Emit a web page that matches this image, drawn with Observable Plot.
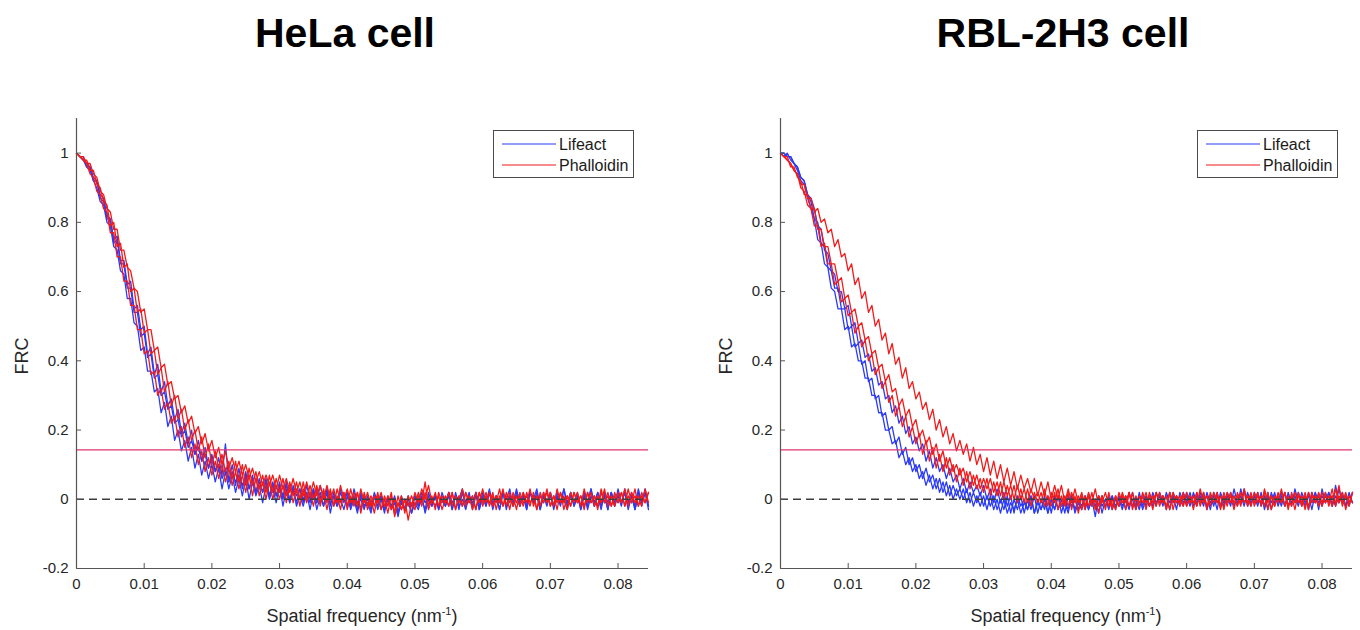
<!DOCTYPE html>
<html>
<head>
<meta charset="utf-8">
<script src="https://cdn.jsdelivr.net/npm/d3@7"></script>
<script src="https://cdn.jsdelivr.net/npm/@observablehq/plot@0.6"></script>
<style>
  html, body { margin: 0; padding: 0; background: #fff; }
  body { font-family: "Liberation Sans", Arial, Helvetica, sans-serif; color: #262626; }
  #root { position: relative; width: 1360px; height: 630px; overflow: hidden; }
  .title { position: absolute; top: 13px; font-weight: bold; font-size: 41px; line-height: 41px; color: #000; transform: translateX(-50%); white-space: nowrap; }
  .panel { position: absolute; top: 100px; width: 680px; height: 530px; }
  .panel svg { max-width: none !important; width: 680px; height: 530px; display: block; }
  .xlabel { position: absolute; top: 607px; font-size: 18px; line-height: 18px; transform: translateX(-50%); white-space: nowrap; }
  .xlabel span { font-size: 11px; position: relative; top: -7px; }
  .ylabel { position: absolute; font-size: 18px; line-height: 18px; transform: translate(-50%, -50%) rotate(-90deg); white-space: nowrap; }
  .legend { position: absolute; }
</style>
</head>
<body>
<div id="root"></div>
<script>
// ---------- data ----------
const titles = ["HeLa cell", "RBL-2H3 cell"];
const seriesNames = ["Lifeact", "Phalloidin"];
const xLabel = "Spatial frequency (nm";
const yLabel = "FRC";
const xDomain = [0, 0.0845];
const yDomain = [-0.2, 1.1];
const xTicks = [0, 0.01, 0.02, 0.03, 0.04, 0.05, 0.06, 0.07, 0.08];
const yTicks = [-0.2, 0, 0.2, 0.4, 0.6, 0.8, 1];
const threshold = [1 / 7];
const zeroLine = [0];
// spatial frequency sampling (nm^-1), 0.0005 steps
const freq = d3.range(170).map(i => Math.round(i * 5) / 10000);

// HeLa, Lifeact (3 curves)
const helaLifeact = [
[1,0.99,0.98,0.97,0.96,0.93,0.92,0.88,0.87,0.82,
 0.81,0.75,0.76,0.69,0.69,0.62,0.63,0.55,0.56,0.49,
 0.50,0.42,0.44,0.36,0.39,0.31,0.34,0.27,0.29,0.23,
 0.26,0.19,0.22,0.16,0.20,0.13,0.17,0.11,0.15,0.09,
 0.13,0.08,0.12,0.07,0.16,0.05,0.10,0.04,0.09,0.03,
 0.08,0.03,0.07,0.02,0.06,0.02,0.06,0.01,0.05,0.01,
 0.05,0,0.05,-0.01,0.04,0.01,0.03,-0.01,0.04,0,
 0.03,-0.01,0.04,0,0.03,-0.02,0.02,-0.01,0.03,0,
 0.02,-0.02,0.03,-0.01,0,-0.03,0.01,-0.02,0.02,-0.01,
 0.01,-0.03,0,-0.02,0,-0.04,0.01,-0.03,-0.01,-0.04,
 0.01,-0.02,0.02,-0.01,0.01,-0.02,0.01,-0.03,0.02,-0.01,
 0.02,-0.03,0.01,0,0.03,-0.01,0.02,-0.03,0.01,-0.02,
 0.02,-0.01,0.03,-0.02,0.01,-0.03,0.02,0,0.03,-0.02,
 0.01,-0.02,0.02,-0.03,0.02,0,0.03,-0.02,0.01,-0.01,
 0.02,-0.03,0.01,-0.02,0.03,-0.01,0.02,-0.02,0.01,-0.03,
 0.02,-0.01,0.03,-0.02,0.01,-0.03,0.02,-0.01,0.02,-0.02,
 0.03,-0.01,0.02,-0.02,0.01,-0.03,0.02,-0.01,0.03,-0.02],
[1,0.99,0.98,0.96,0.95,0.92,0.90,0.86,0.85,0.80,
 0.79,0.73,0.72,0.66,0.65,0.58,0.58,0.51,0.50,0.43,
 0.44,0.37,0.37,0.31,0.32,0.25,0.28,0.21,0.24,0.17,
 0.20,0.14,0.17,0.11,0.15,0.09,0.13,0.07,0.11,0.06,
 0.10,0.05,0.09,0.03,0.08,0.03,0.07,0.02,0.06,0.01,
 0.06,0,0.05,0.01,0.04,-0.01,0.04,0,0.03,-0.01,
 0.04,-0.02,0.03,-0.01,0.03,-0.02,0.01,-0.02,0.02,-0.03,
 0.02,-0.03,0.01,-0.02,0.02,-0.04,0.01,-0.02,0,-0.03,
 0.01,-0.03,0,-0.04,0.01,-0.02,-0.01,-0.04,0.01,-0.03,
 0,-0.04,0.01,-0.03,-0.01,-0.05,0,-0.03,0.01,-0.04,
 -0.01,-0.03,0.01,-0.04,0,-0.02,0.01,-0.03,0,-0.02,
 0.01,-0.03,0.02,-0.02,0,-0.03,0.01,-0.02,0.02,-0.03,
 0.01,-0.02,0.02,-0.03,0.01,-0.01,0.02,-0.03,0.01,-0.02,
 0.02,-0.02,0.01,-0.03,0.02,-0.01,0.01,-0.03,0.02,-0.01,
 0.01,-0.02,0.02,-0.01,0,-0.03,0.02,-0.02,0.01,-0.02,
 0.02,-0.03,0.01,-0.02,0.02,-0.01,0.01,-0.03,0.02,-0.02,
 0.01,-0.02,0.03,-0.01,0.02,-0.03,0.01,-0.02,0.02,-0.03],
[1,0.99,0.99,0.96,0.96,0.92,0.92,0.87,0.86,0.81,
 0.81,0.74,0.75,0.68,0.68,0.61,0.61,0.54,0.54,0.47,
 0.48,0.41,0.42,0.35,0.36,0.30,0.31,0.26,0.27,0.22,
 0.23,0.18,0.20,0.15,0.17,0.13,0.15,0.11,0.13,0.09,
 0.12,0.08,0.10,0.06,0.09,0.05,0.08,0.05,0.07,0.04,
 0.07,0.03,0.06,0.02,0.05,0.02,0.05,0.01,0.04,0.01,
 0.04,0.01,0.04,0,0.03,-0.01,0.03,0,0.02,-0.01,
 0.03,-0.01,0.02,-0.02,0.03,-0.01,0.01,-0.02,0.02,-0.01,
 0.02,-0.02,0.01,-0.03,0.02,-0.02,0,-0.03,0.01,-0.02,
 0.01,-0.03,0,-0.02,0.01,-0.04,-0.01,-0.03,0,-0.02,
 0.01,-0.02,0,-0.03,0.02,-0.01,0.01,-0.02,0,-0.02,
 0.02,-0.01,0.01,-0.03,0.02,-0.02,0.01,-0.01,0.02,-0.03,
 0.01,-0.02,0.02,-0.01,0.01,-0.03,0.02,-0.02,0.01,-0.01,
 0.03,-0.01,0.01,-0.02,0.02,-0.01,0.02,-0.03,0.01,-0.02,
 0.02,-0.02,0.01,-0.01,0.03,-0.02,0.01,-0.01,0.02,-0.03,
 0.01,-0.02,0.03,-0.01,0.02,-0.02,0.01,-0.03,0.02,-0.01,
 0.02,-0.01,0.02,-0.03,0.01,-0.02,0.03,-0.01,0.02,-0.02]
];

// HeLa, Phalloidin (3 curves)
const helaPhalloidin = [
[1,0.99,0.99,0.97,0.97,0.94,0.93,0.89,0.88,0.84,
 0.83,0.78,0.78,0.72,0.72,0.67,0.66,0.61,0.60,0.54,
 0.55,0.49,0.49,0.43,0.44,0.38,0.39,0.33,0.34,0.29,
 0.30,0.25,0.27,0.22,0.24,0.19,0.21,0.16,0.19,0.14,
 0.17,0.12,0.15,0.10,0.14,0.09,0.12,0.08,0.11,0.07,
 0.10,0.06,0.09,0.05,0.08,0.04,0.07,0.04,0.07,0.03,
 0.07,0.03,0.06,0.02,0.06,0.02,0.05,0.01,0.05,0.01,
 0.05,0.01,0.04,0,0.04,0,0.03,-0.01,0.04,0,
 0.03,-0.01,0.02,-0.02,0.03,-0.01,0.02,-0.02,0.01,-0.01,
 0.02,-0.02,0.01,-0.03,0,-0.02,0.01,-0.04,0.01,-0.02,
 0.02,-0.01,0.03,0,0.04,-0.01,0.02,-0.02,0.01,-0.01,
 0.02,-0.02,0.01,-0.01,0.03,-0.02,0.01,-0.03,0.02,-0.01,
 0.03,-0.01,0.02,-0.02,0.01,-0.01,0.03,-0.02,0.02,-0.02,
 0.01,-0.02,0.02,-0.01,0.03,-0.02,0.01,-0.02,0.02,-0.01,
 0.02,-0.02,0.03,-0.01,0.01,-0.03,0.02,-0.01,0.02,-0.02,
 0.03,-0.01,0.02,-0.02,0.01,-0.01,0.03,-0.02,0.01,-0.02,
 0.02,-0.01,0.03,-0.02,0.02,-0.01,0.01,-0.02,0.03,-0.01],
[1,0.99,0.98,0.97,0.94,0.93,0.89,0.88,0.84,0.83,
 0.77,0.77,0.70,0.70,0.63,0.63,0.56,0.56,0.49,0.49,
 0.42,0.43,0.36,0.37,0.30,0.32,0.26,0.28,0.22,0.24,
 0.18,0.21,0.15,0.18,0.12,0.16,0.10,0.14,0.08,0.12,
 0.07,0.11,0.06,0.10,0.05,0.09,0.04,0.08,0.03,0.07,
 0.02,0.07,0.01,0.06,0.01,0.05,0,0.05,0,0.04,
 0,0.04,-0.01,0.04,-0.01,0.03,-0.02,0.03,-0.01,0.02,
 -0.02,0.03,-0.02,0.02,-0.03,0.02,-0.02,0.01,-0.03,0.02,
 -0.03,0.01,-0.02,0.02,-0.04,0.01,-0.03,0,-0.04,0.01,
 -0.03,0,-0.04,0.01,-0.05,-0.01,-0.03,0,-0.06,-0.01,
 -0.03,0.01,-0.02,0.02,-0.03,0,-0.02,0.01,-0.03,0,
 -0.02,0.02,-0.03,0.01,-0.02,0.02,-0.01,0.01,-0.03,0.02,
 -0.02,0.01,-0.01,0.02,-0.03,0.01,-0.02,0.02,-0.01,0.01,
 -0.03,0.02,-0.01,0.01,-0.02,0.02,-0.03,0.01,-0.01,0.02,
 -0.02,0.01,-0.03,0.02,-0.01,0.01,-0.02,0.02,-0.01,0.01,
 -0.02,0.02,-0.01,0.01,-0.03,0.02,-0.01,0.01,-0.02,0.02,
 -0.01,0.02,-0.02,0.01,-0.01,0.03,-0.02,0.01,-0.01,0.02],
[1,0.99,0.98,0.98,0.95,0.95,0.91,0.90,0.86,0.85,
 0.79,0.80,0.73,0.74,0.67,0.68,0.60,0.61,0.54,0.55,
 0.48,0.49,0.42,0.43,0.36,0.38,0.31,0.34,0.27,0.30,
 0.23,0.26,0.20,0.23,0.17,0.20,0.14,0.18,0.12,0.16,
 0.10,0.14,0.09,0.13,0.08,0.11,0.06,0.11,0.05,0.10,
 0.04,0.09,0.04,0.08,0.03,0.07,0.02,0.07,0.02,0.06,
 0.02,0.06,0.01,0.05,0.01,0.05,0,0.05,0,0.04,
 0,0.04,-0.01,0.03,-0.01,0.03,-0.02,0.03,-0.01,0.02,
 -0.02,0.03,-0.01,0.02,-0.03,0.02,-0.02,0.01,-0.02,0.02,
 -0.03,0.01,-0.02,0.02,-0.04,0.01,-0.03,0,-0.02,0.01,
 -0.02,0.02,-0.01,0.05,-0.02,0.01,-0.03,0.02,-0.01,0.01,
 -0.02,0.02,-0.03,0.01,-0.02,0.02,-0.01,0.01,-0.03,0.02,
 -0.01,0.02,-0.02,0.01,-0.01,0.03,-0.02,0.01,-0.03,0.02,
 -0.01,0.01,-0.02,0.02,-0.01,0.01,-0.03,0.02,-0.01,0.03,
 -0.02,0.01,-0.01,0.02,-0.03,0.01,-0.02,0.02,-0.01,0.01,
 -0.03,0.02,-0.01,0.01,-0.02,0.03,-0.01,0.02,-0.02,0.01,
 -0.01,0.02,-0.02,0.03,-0.01,0.01,-0.02,0.02,-0.01,0.02]
];

// RBL-2H3, Lifeact (3 curves)
const rblLifeact = [
[1,1,0.99,0.99,0.97,0.95,0.92,0.91,0.87,0.84,
 0.81,0.75,0.74,0.68,0.67,0.61,0.60,0.55,0.55,0.49,
 0.50,0.44,0.45,0.40,0.40,0.35,0.35,0.30,0.30,0.25,
 0.25,0.20,0.20,0.16,0.17,0.12,0.14,0.10,0.12,0.08,
 0.10,0.06,0.08,0.04,0.07,0.03,0.06,0.02,0.05,0.01,
 0.04,0,0.03,0,0.03,-0.01,0.02,-0.02,0.01,-0.02,
 0.01,-0.03,0.01,-0.03,0,-0.04,0,-0.04,-0.01,-0.03,
 0,-0.04,-0.01,-0.03,0.01,-0.04,-0.01,-0.03,0,-0.04,
 0,-0.03,0.01,-0.02,-0.01,-0.04,0.01,-0.03,0,-0.02,
 0.01,-0.03,0,-0.02,0.01,-0.04,0,-0.02,0.01,-0.03,
 0.01,-0.02,0,-0.03,0.02,-0.02,0.01,-0.03,0,-0.02,
 0.01,-0.02,0.02,-0.01,0.01,-0.03,0.02,-0.01,0,-0.02,
 0.02,-0.01,0.01,-0.02,0.02,-0.01,0.01,-0.03,0.02,-0.01,
 0.01,-0.02,0.02,-0.01,0.01,-0.02,0.03,-0.01,0.01,-0.02,
 0.02,-0.01,0.01,-0.02,0.02,-0.03,0.01,-0.01,0.02,-0.02,
 0.01,-0.02,0.03,-0.01,0.01,-0.02,0.02,-0.01,0.02,-0.03,
 0.03,-0.01,0.02,-0.02,0.01,-0.01,0.02,-0.02,0.01,-0.01],
[1,0.99,1,0.98,0.97,0.96,0.93,0.92,0.88,0.86,
 0.81,0.80,0.74,0.73,0.67,0.66,0.61,0.61,0.55,0.55,
 0.49,0.50,0.44,0.45,0.39,0.40,0.34,0.35,0.29,0.30,
 0.24,0.25,0.20,0.21,0.16,0.18,0.13,0.15,0.10,0.12,
 0.08,0.10,0.06,0.09,0.05,0.07,0.03,0.06,0.02,0.05,
 0.01,0.04,0.01,0.03,0,0.03,-0.01,0.02,-0.01,0.02,
 -0.02,0.01,-0.02,0.01,-0.03,0,-0.03,0.01,-0.04,0,
 -0.03,0.01,-0.04,0,-0.03,0.01,-0.04,0,-0.03,0.01,
 -0.04,0.01,-0.03,0,-0.04,0.01,-0.02,0,-0.03,0.01,
 -0.03,0.01,-0.02,0,-0.04,0.01,-0.02,0.01,-0.03,0,
 -0.02,0.01,-0.03,0.02,-0.02,0,-0.03,0.01,-0.02,0.01,
 -0.02,0.02,-0.01,0.01,-0.03,0.02,-0.01,0.01,-0.02,0.02,
 -0.01,0.02,-0.02,0.01,-0.01,0.02,-0.03,0.01,-0.02,0.02,
 -0.02,0.01,-0.01,0.02,-0.02,0.01,-0.01,0.03,-0.02,0.01,
 -0.01,0.02,-0.02,0.01,-0.03,0.02,-0.01,0.01,-0.02,0.02,
 -0.02,0.01,-0.01,0.02,-0.02,0.01,-0.03,0.02,-0.01,0.01,
 -0.02,0.02,-0.01,0.01,-0.02,0.03,-0.01,0.01,-0.02,0.02],
[1,1,0.99,0.99,0.97,0.96,0.93,0.92,0.88,0.87,
 0.84,0.79,0.78,0.72,0.71,0.66,0.65,0.60,0.60,0.55,
 0.56,0.50,0.51,0.45,0.46,0.41,0.42,0.37,0.38,0.33,
 0.34,0.29,0.30,0.25,0.27,0.22,0.24,0.19,0.21,0.16,
 0.18,0.14,0.16,0.11,0.14,0.09,0.12,0.08,0.10,0.06,
 0.09,0.05,0.07,0.03,0.06,0.02,0.05,0.02,0.04,0.01,
 0.04,0,0.03,-0.01,0.03,-0.01,0.02,-0.02,0.01,-0.04,
 0.01,-0.02,0,-0.03,0.01,-0.04,0,-0.03,0.01,-0.04,
 0,-0.03,0.01,-0.04,0,-0.03,0.01,-0.04,-0.01,-0.03,
 0.01,-0.03,0,-0.05,0.01,-0.02,0,-0.03,0.01,-0.02,
 0,-0.03,0.01,-0.02,0,-0.03,0.02,-0.02,0.01,-0.02,
 0.02,-0.01,0.01,-0.02,0.02,-0.01,0.01,-0.03,0.02,-0.01,
 0.01,-0.02,0.02,-0.01,0.01,-0.02,0.02,-0.01,0.01,-0.03,
 0.02,-0.01,0.01,-0.02,0.03,-0.01,0.01,-0.02,0.02,-0.01,
 0.01,-0.02,0.02,-0.03,0.01,-0.01,0.02,-0.02,0.01,-0.02,
 0.02,-0.01,0.01,-0.02,0.02,-0.01,0.01,-0.03,0.02,-0.01,
 0.01,-0.01,0.02,-0.02,0.04,-0.01,0.01,-0.02,0.02,-0.01]
];

// RBL-2H3, Phalloidin (3 curves)
const rblPhalloidin = [
[1,0.99,0.98,0.97,0.95,0.94,0.91,0.91,0.87,0.87,
 0.83,0.84,0.80,0.81,0.77,0.78,0.73,0.75,0.70,0.71,
 0.66,0.68,0.62,0.64,0.58,0.60,0.54,0.56,0.50,0.52,
 0.46,0.48,0.42,0.45,0.39,0.41,0.35,0.38,0.32,0.34,
 0.29,0.31,0.26,0.28,0.23,0.26,0.20,0.23,0.18,0.21,
 0.16,0.19,0.14,0.17,0.13,0.16,0.11,0.15,0.10,0.13,
 0.08,0.12,0.07,0.11,0.06,0.10,0.05,0.09,0.04,0.08,
 0.03,0.07,0.03,0.06,0.02,0.06,0.01,0.05,0.01,0.05,
 0,0.04,0,0.04,-0.01,0.03,-0.01,0.03,-0.01,0.02,
 -0.02,0.02,-0.01,0.03,-0.02,0.01,-0.03,0.02,-0.02,0.01,
 -0.02,0.02,-0.01,0.02,-0.03,0.01,-0.02,0.02,-0.01,0.01,
 -0.03,0.02,-0.01,0.01,-0.02,0.02,-0.03,0.01,-0.01,0.02,
 -0.02,0.01,-0.03,0.02,-0.01,0.02,-0.02,0.01,-0.01,0.02,
 -0.02,0.02,-0.01,0.01,-0.03,0.02,-0.01,0.02,-0.02,0.01,
 -0.01,0.02,-0.02,0.03,-0.01,0.01,-0.02,0.02,-0.01,0.02,
 -0.02,0.01,-0.03,0.02,-0.01,0.02,-0.02,0.01,-0.01,0.02,
 -0.01,0.02,-0.02,0.01,-0.01,0.04,-0.02,0.01,-0.01,0.02],
[1,0.99,0.99,0.96,0.96,0.93,0.92,0.88,0.88,0.84,
 0.84,0.78,0.78,0.73,0.73,0.68,0.68,0.63,0.64,0.58,
 0.59,0.54,0.55,0.50,0.51,0.46,0.47,0.42,0.43,0.38,
 0.39,0.34,0.36,0.31,0.32,0.27,0.29,0.24,0.26,0.21,
 0.23,0.18,0.20,0.16,0.18,0.13,0.16,0.11,0.14,0.09,
 0.12,0.08,0.10,0.07,0.09,0.05,0.08,0.04,0.07,0.03,
 0.06,0.03,0.06,0.02,0.05,0.01,0.05,0.01,0.04,0,
 0.04,0,0.03,-0.01,0.03,0,0.02,-0.01,0.03,-0.02,
 0.02,-0.01,0.03,-0.02,0.01,-0.02,0.02,-0.01,0.01,-0.03,
 0.01,-0.02,0.02,-0.03,0.01,-0.01,0.02,-0.02,0,-0.03,
 0.02,-0.01,0.01,-0.02,0.02,-0.03,0.01,-0.01,0.02,-0.02,
 0.01,-0.02,0.02,-0.01,0.01,-0.03,0.02,-0.01,0.01,-0.02,
 0.02,-0.01,0.01,-0.02,0.03,-0.01,0.01,-0.02,0.02,-0.01,
 0.01,-0.03,0.02,-0.01,0.01,-0.02,0.02,-0.01,0.01,-0.02,
 0.02,-0.01,0.01,-0.02,0.02,-0.03,0.01,-0.01,0.03,-0.02,
 0.01,-0.02,0.02,-0.01,0.01,-0.03,0.02,-0.01,0.01,-0.02,
 0.02,-0.01,0.01,-0.02,0.03,-0.01,0.02,-0.03,0.01,-0.01],
[1,0.99,0.98,0.97,0.95,0.94,0.90,0.89,0.85,0.84,
 0.79,0.79,0.73,0.74,0.68,0.68,0.62,0.63,0.57,0.58,
 0.53,0.54,0.48,0.50,0.44,0.46,0.40,0.42,0.36,0.38,
 0.32,0.34,0.28,0.30,0.24,0.27,0.21,0.24,0.18,0.21,
 0.16,0.19,0.13,0.17,0.11,0.15,0.09,0.13,0.08,0.12,
 0.07,0.10,0.05,0.09,0.04,0.08,0.03,0.07,0.03,0.06,
 0.02,0.06,0.01,0.05,0.01,0.05,0,0.04,0,0.04,
 -0.01,0.03,-0.01,0.03,-0.02,0.02,-0.01,0.02,-0.02,0.01,
 -0.02,0.02,-0.03,0.01,-0.02,0.02,-0.03,0.01,-0.04,0.01,
 -0.03,0.01,-0.02,0,-0.04,0.01,-0.02,0,-0.03,0.01,
 -0.02,0.01,-0.03,0.02,-0.02,0,-0.01,0.01,-0.03,0.02,
 -0.01,0.02,-0.02,0.01,-0.03,0.02,-0.01,0.01,-0.02,0.01,
 -0.02,0.01,-0.01,0.02,-0.02,0.01,-0.03,0.02,-0.01,0.01,
 -0.03,0.01,-0.02,0.02,-0.01,0.01,-0.02,0.03,-0.01,0.02,
 -0.02,0.01,-0.01,0.02,-0.03,0.01,-0.02,0.01,-0.01,0.02,
 -0.03,0.02,-0.01,0.01,-0.02,0.01,-0.03,0.02,-0.01,0.01,
 -0.02,0.01,-0.01,0.03,-0.02,0.01,-0.01,0.02,-0.02,0.02]
];

// ---------- style ----------
const blue = "#2b3bf5";
const red = "#f21a1a";
const pink = "#e0356c";
const axisColor = "#555555";
const W = 680, H = 530, mL = 76, mR = 32, mT = 18, mB = 62;
const innerW = W - mL - mR, innerH = H - mT - mB;
const fmt = d => String(+d.toFixed(3));

function toRows(curves, tag) {
  const rows = [];
  curves.forEach((vals, k) => vals.forEach((v, i) => rows.push({f: freq[i], v, id: tag + k})));
  return rows;
}

function panel(lifeact, phalloidin) {
  return Plot.plot({
    width: W, height: H,
    marginLeft: mL, marginRight: mR, marginTop: mT, marginBottom: mB,
    x: {domain: xDomain},
    y: {domain: yDomain},
    style: {fontFamily: "'Liberation Sans', Arial, Helvetica, sans-serif", fontSize: "15px", color: "#262626", background: "transparent", overflow: "visible", maxWidth: "none"},
    marks: [
      Plot.line(toRows(lifeact, "L"), {x: "f", y: "v", z: "id", stroke: blue, strokeWidth: 1.3}),
      Plot.line(toRows(phalloidin, "P"), {x: "f", y: "v", z: "id", stroke: red, strokeWidth: 1.3}),
      Plot.ruleY(threshold, {stroke: pink, strokeWidth: 1.3}),
      Plot.ruleY(zeroLine, {stroke: "#3c3c3c", strokeWidth: 1.3, strokeDasharray: "8,5"}),
      Plot.ruleX([xDomain[0]], {stroke: axisColor, strokeWidth: 1.2}),
      Plot.ruleY([yDomain[0]], {stroke: axisColor, strokeWidth: 1.2}),
      Plot.tickX(xTicks, {x: d => d, insetTop: innerH - 5, stroke: axisColor}),
      Plot.tickY(yTicks, {y: d => d, insetRight: innerW - 5, stroke: axisColor}),
      Plot.axisX(xTicks, {tickSize: 0, tickPadding: 10, tickFormat: fmt, fontSize: 15, label: null}),
      Plot.axisY(yTicks, {tickSize: 0, tickPadding: 8, tickFormat: fmt, fontSize: 15, label: null})
    ]
  });
}

function legend() {
  const ns = "http://www.w3.org/2000/svg";
  const svg = document.createElementNS(ns, "svg");
  svg.setAttribute("width", 142); svg.setAttribute("height", 49);
  const rect = document.createElementNS(ns, "rect");
  Object.entries({x: 0.5, y: 0.5, width: 140, height: 47, fill: "#fff", stroke: "#4a4a4a"}).forEach(([k, v]) => rect.setAttribute(k, v));
  svg.appendChild(rect);
  [blue, red].forEach((c, i) => {
    const y = 14 + i * 21;
    const ln = document.createElementNS(ns, "line");
    Object.entries({x1: 9, x2: 63, y1: y, y2: y, stroke: c, "stroke-width": 1.2}).forEach(([k, v]) => ln.setAttribute(k, v));
    svg.appendChild(ln);
    const t = document.createElementNS(ns, "text");
    Object.entries({x: 66, y: y + 5.7, "font-size": 16, fill: "#1a1a1a", "font-family": "'Liberation Sans', Arial, sans-serif"}).forEach(([k, v]) => t.setAttribute(k, v));
    t.textContent = seriesNames[i];
    svg.appendChild(t);
  });
  return svg;
}

const root = document.getElementById("root");
const panels = [
  {left: 0, titleX: 345, data: [helaLifeact, helaPhalloidin]},
  {left: 704, titleX: 1063, data: [rblLifeact, rblPhalloidin]}
];
panels.forEach((p, i) => {
  const t = document.createElement("div");
  t.className = "title"; t.style.left = p.titleX + "px"; t.textContent = titles[i];
  root.appendChild(t);

  const wrap = document.createElement("div");
  wrap.className = "panel"; wrap.style.left = p.left + "px";
  wrap.appendChild(panel(p.data[0], p.data[1]));
  root.appendChild(wrap);

  const xl = document.createElement("div");
  xl.className = "xlabel"; xl.style.left = (p.left + mL + innerW / 2) + "px";
  xl.innerHTML = xLabel + "<span>-1</span>)";
  root.appendChild(xl);

  const yl = document.createElement("div");
  yl.className = "ylabel"; yl.style.left = (p.left + 22) + "px"; yl.style.top = "356px";
  yl.textContent = yLabel;
  root.appendChild(yl);

  const lg = document.createElement("div");
  lg.className = "legend"; lg.style.left = (p.left + 493) + "px"; lg.style.top = "130px";
  lg.appendChild(legend());
  root.appendChild(lg);
});
</script>
</body>
</html>
